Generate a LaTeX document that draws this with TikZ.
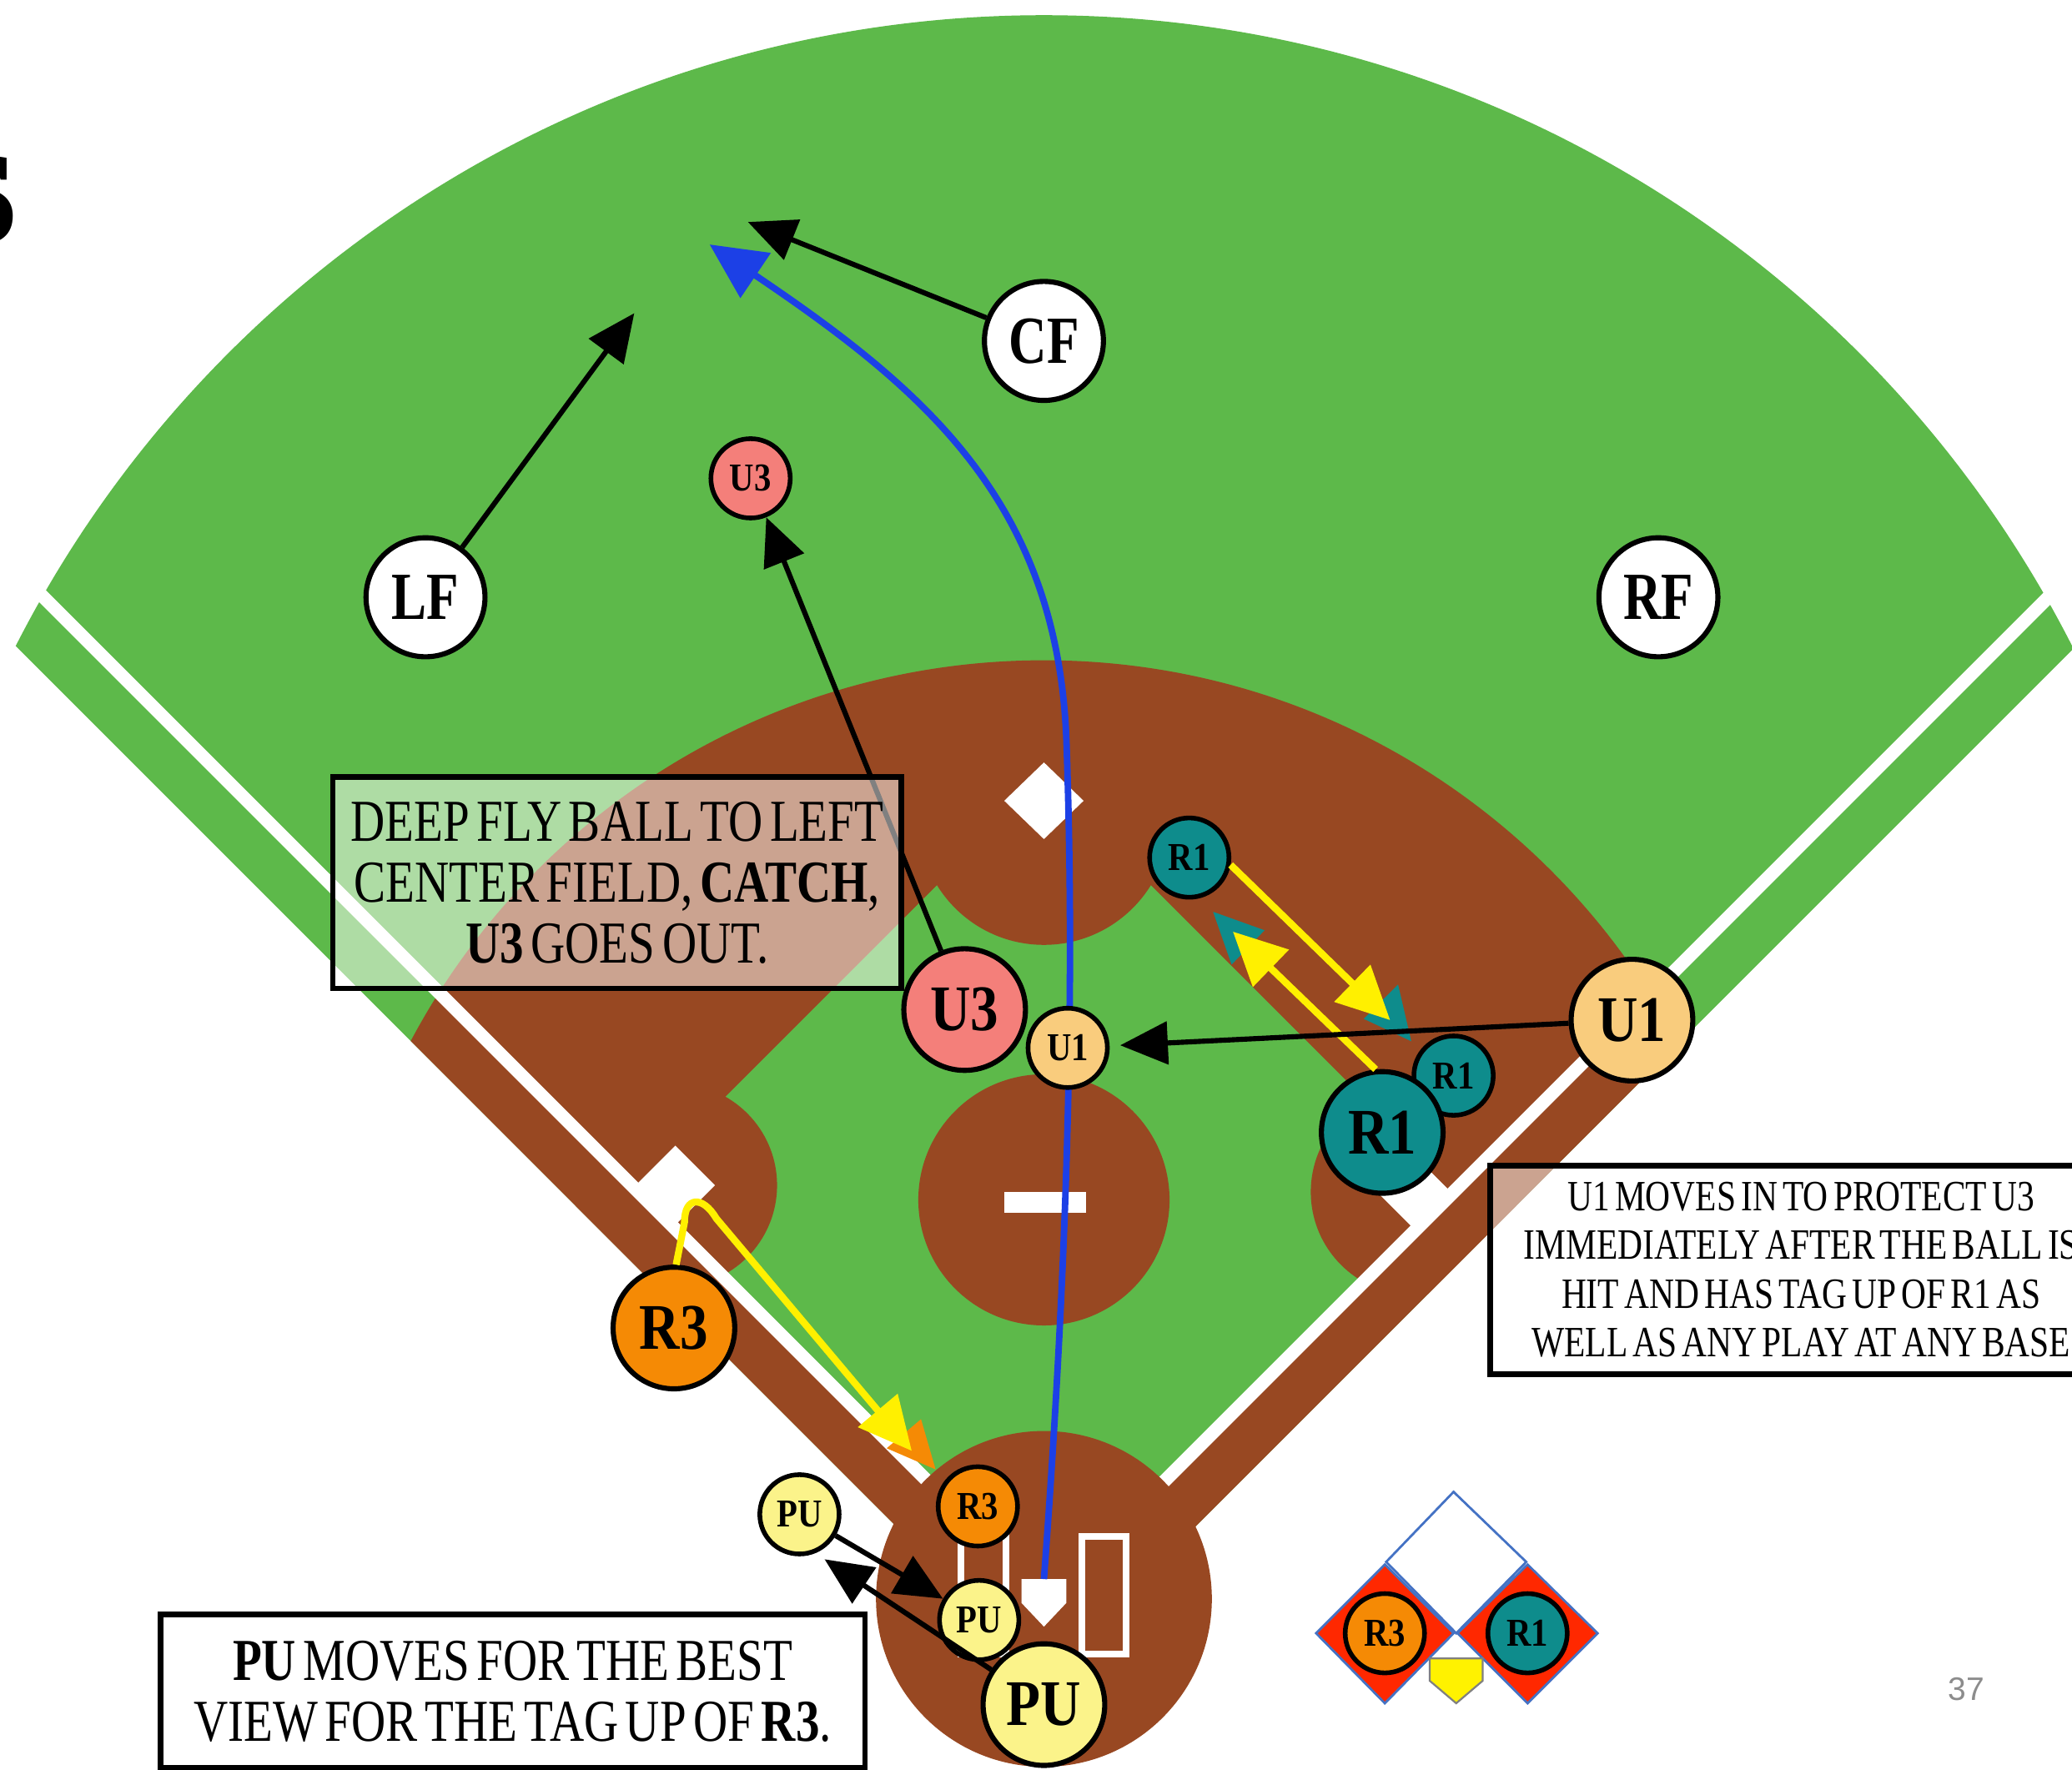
\documentclass[tikz,border=0pt]{standalone}
\usepackage{fontspec}
\setmainfont{Liberation Serif}
\newfontfamily\boxfont[FakeStretch=0.8, WordSpace=1.5]{Liberation Serif}
\newfontfamily\boxfontb[FakeStretch=0.8, WordSpace=0.6]{Liberation Serif}
\newfontfamily\lblfont[FakeStretch=0.86]{Liberation Serif}
\newfontfamily\fldfont[FakeStretch=0.78]{Liberation Serif}
\newfontfamily\sansf{Liberation Sans}
\usetikzlibrary{arrows.meta}
\definecolor{grass}{RGB}{93,185,74}
\definecolor{dirt}{RGB}{152,72,34}
\definecolor{salmon}{RGB}{244,127,122}
\definecolor{uone}{RGB}{249,204,125}
\definecolor{tealr}{RGB}{14,140,140}
\definecolor{orng}{RGB}{245,138,5}
\definecolor{yel}{RGB}{251,243,138}
\definecolor{ballblue}{RGB}{28,64,230}
\definecolor{arryel}{RGB}{255,240,0}
\definecolor{diamred}{RGB}{255,40,0}
\definecolor{diamblue}{RGB}{68,114,196}
\begin{document}
\begin{tikzpicture}[x=0.01cm, y=-0.01cm,
  player/.style={circle, draw=black, line width=1.1pt, inner sep=0pt},
  bigp/.style={player, minimum size=0.92cm, font=\lblfont\bfseries\fontsize{14}{14}\selectfont},
  smallp/.style={player, minimum size=0.6cm, line width=1pt, font=\lblfont\bfseries\fontsize{8.5}{8.5}\selectfont},
  fielder/.style={player, fill=white, minimum size=0.9cm, font=\fldfont\bfseries\fontsize{14.5}{14.5}\selectfont},
  blackarrow/.style={draw=black, line width=1.1pt, -{Triangle[length=0.36cm,width=0.32cm]}},
  yelarrow/.style={draw=arryel, line width=1.5pt, -{Triangle[length=0.4cm,width=0.38cm]}},
  ballarrow/.style={draw=ballblue, line width=1.4pt, -{Triangle[length=0.42cm,width=0.4cm]}},
  textbox/.style={draw=black, line width=1.2pt, align=center, inner sep=0pt}
]
\useasboundingbox (0,0) rectangle (1568,1339);
\clip (0,0) rectangle (1568,1339);

% ---------- field ----------
\begin{scope}
  \clip (791.5,1268.5) -- (-600,-123) -- (2183,-123) -- cycle;
  \fill[grass] (790,884) circle[radius=8.72cm];
  \fill[dirt] (790,1042) circle[radius=5.42cm];
\end{scope}
\fill[grass] (791.5,1210.5) -- (480,899) -- (790,589) -- (1101.5,900.5) -- cycle;
\begin{scope}
  \clip (791.5,1268.5) -- (-600,-123) -- (2183,-123) -- cycle;
  \fill[dirt] (511,897) circle[radius=0.77cm];
  \fill[dirt] (1070,902) circle[radius=0.78cm];
\end{scope}
\fill[dirt] (790,620) circle[radius=0.95cm];
\fill[dirt] (790,908) circle[radius=0.95cm];
\draw[white, line width=0.1cm] (791.5,1210.5) -- (-10,409);
\draw[white, line width=0.1cm] (791.5,1210.5) -- (1600,402);
\fill[dirt] (790,1210) circle[radius=1.27cm];
% bases
\fill[white] (511,867) -- (541,897) -- (511,927) -- (481,897) -- cycle;
\fill[white] (1070,874) -- (1098,902) -- (1070,930) -- (1042,902) -- cycle;
\fill[white] (790,577) -- (820,606) -- (790,635) -- (760,606) -- cycle;
\fill[white] (760,902) rectangle (822,918);
\fill[white] (773,1195) -- (807,1195) -- (807,1213) -- (790,1231) -- (773,1213) -- cycle;
\draw[white, line width=0.05cm] (727,1163) rectangle (761,1252);
\draw[white, line width=0.05cm] (819,1163) rectangle (852,1252);
\coordinate (hpTop) at (790,1195);

% ---------- legend diamond ----------
\filldraw[fill=white, draw=diamblue, line width=0.5pt] (1100,1129) -- (1155,1182) -- (1102,1236) -- (1049,1182) -- cycle;
\filldraw[fill=diamred, draw=diamblue, line width=0.5pt] (1048,1184) -- (1100,1236) -- (1048,1289) -- (996,1236) -- cycle;
\filldraw[fill=diamred, draw=diamblue, line width=0.5pt] (1156,1184) -- (1209,1236) -- (1156,1289) -- (1103,1236) -- cycle;
\filldraw[fill=yellow, draw=gray, line width=0.4pt] (1082,1255) -- (1122,1255) -- (1122,1272) -- (1102,1289) -- (1082,1272) -- cycle;

% ---------- title fragment ----------
\node[anchor=base east, inner sep=0pt, font=\bfseries\fontsize{40}{40}\selectfont] (title) at (14,184) {s};

% ---------- coordinates for free arrow ends ----------
\coordinate (lfT) at (480,237);
\coordinate (cfT) at (566,168);
\coordinate (blT) at (537,185);
\coordinate (r1T) at (1052,772);
\coordinate (r1T2) at (933,705);
\coordinate (r3T) at (690,1098);
\coordinate (puT) at (624,1180);

% ---------- arrowheads hidden under others ----------
\fill[tealr] (1068,788) -- (1032,771) -- (1058,745) -- cycle;
\fill[tealr] (918,690) -- (957,704) -- (932,730) -- cycle;
\fill[orng] (708,1112) -- (671,1096) -- (697,1074) -- cycle;

% ---------- nodes ----------
\node[fielder] (LF) at (322,452) {LF};
\node[fielder] (CF) at (790,258) {CF};
\node[fielder] (RF) at (1255,452) {RF};
\node[smallp, fill=salmon] (U3small) at (568,362) {U3};
\node[bigp, fill=salmon] (U3big) at (730,764) {U3};
\node[smallp, fill=tealr] (R1a) at (900,649) {R1};
\node[smallp, fill=tealr] (R1c) at (1100,814) {R1};
\node[bigp, fill=tealr] (R1big) at (1046,857) {R1};
\node[bigp, fill=orng] (R3big) at (510,1005) {R3};
\node[smallp, fill=orng] (R3small) at (740,1140) {R3};
\node[smallp, fill=yel] (PUa) at (605,1146) {PU};
\node[smallp, fill=yel] (PUb) at (741,1226) {PU};

\draw[blackarrow] (LF) -- (lfT);
\draw[blackarrow] (CF) -- (cfT);
\draw[blackarrow] (U3big) -- (U3small);
\draw[ballarrow] (hpTop) .. controls (812,900) and (812,700) .. (807,560) .. controls (800,380) and (700,295) .. (blT);
\draw[yelarrow] (R1a.-10) -- (r1T);
\draw[yelarrow] (R1big.96) -- (r1T2);
\draw[yelarrow] (R3big.88) -- (518,925) .. controls (518,905) and (532,905) .. (542,922) -- (r3T);
\draw[blackarrow] (PUa) -- (PUb);

% ---------- text boxes ----------
\node[textbox, fill=white, fill opacity=0.5, text opacity=1, minimum width=4.3cm, minimum height=1.6cm,
      font=\boxfont\fontsize{12.8}{13.1}\selectfont] (box1) at (467,668)
  {DEEP FLY BALL TO LEFT\\CENTER FIELD, \textbf{CATCH},\\\textbf{U3} GOES OUT.};
\node[textbox, fill=white, fill opacity=0.5, text opacity=1, minimum width=4.7cm, minimum height=1.58cm,
      font=\boxfontb\fontsize{9.3}{10.5}\selectfont] (box2) at (1363,961)
  {U1 MOVES IN TO PROTECT U3\\IMMEDIATELY AFTER THE BALL IS\\HIT AND HAS TAG UP OF R1 AS\\WELL AS ANY PLAY AT ANY BASE};
\node[textbox, fill=white, minimum width=5.33cm, minimum height=1.16cm,
      font=\boxfont\fontsize{12.8}{13.1}\selectfont] (box3) at (388,1280)
  {\textbf{PU} MOVES FOR THE BEST\\VIEW FOR THE TAG UP OF \textbf{R3}.};

% ---------- remaining nodes ----------
\node[smallp, fill=uone] (U1small) at (808,793) {U1};
\node[bigp, fill=uone] (U1big) at (1235,772) {U1};
\draw[blackarrow, shorten >=0.08cm] (U1big) -- (U1small);
\node[bigp, fill=yel] (PUbig) at (790,1290) {PU};
\draw[blackarrow] (PUbig) -- (puT);
\node[smallp, fill=orng] (L3) at (1048,1236) {R3};
\node[smallp, fill=tealr] (L1) at (1156,1236) {R1};
\node[text=gray!90, font=\sansf\fontsize{7}{7}\selectfont] (page) at (1488,1278) {37};
\end{tikzpicture}
\end{document}
